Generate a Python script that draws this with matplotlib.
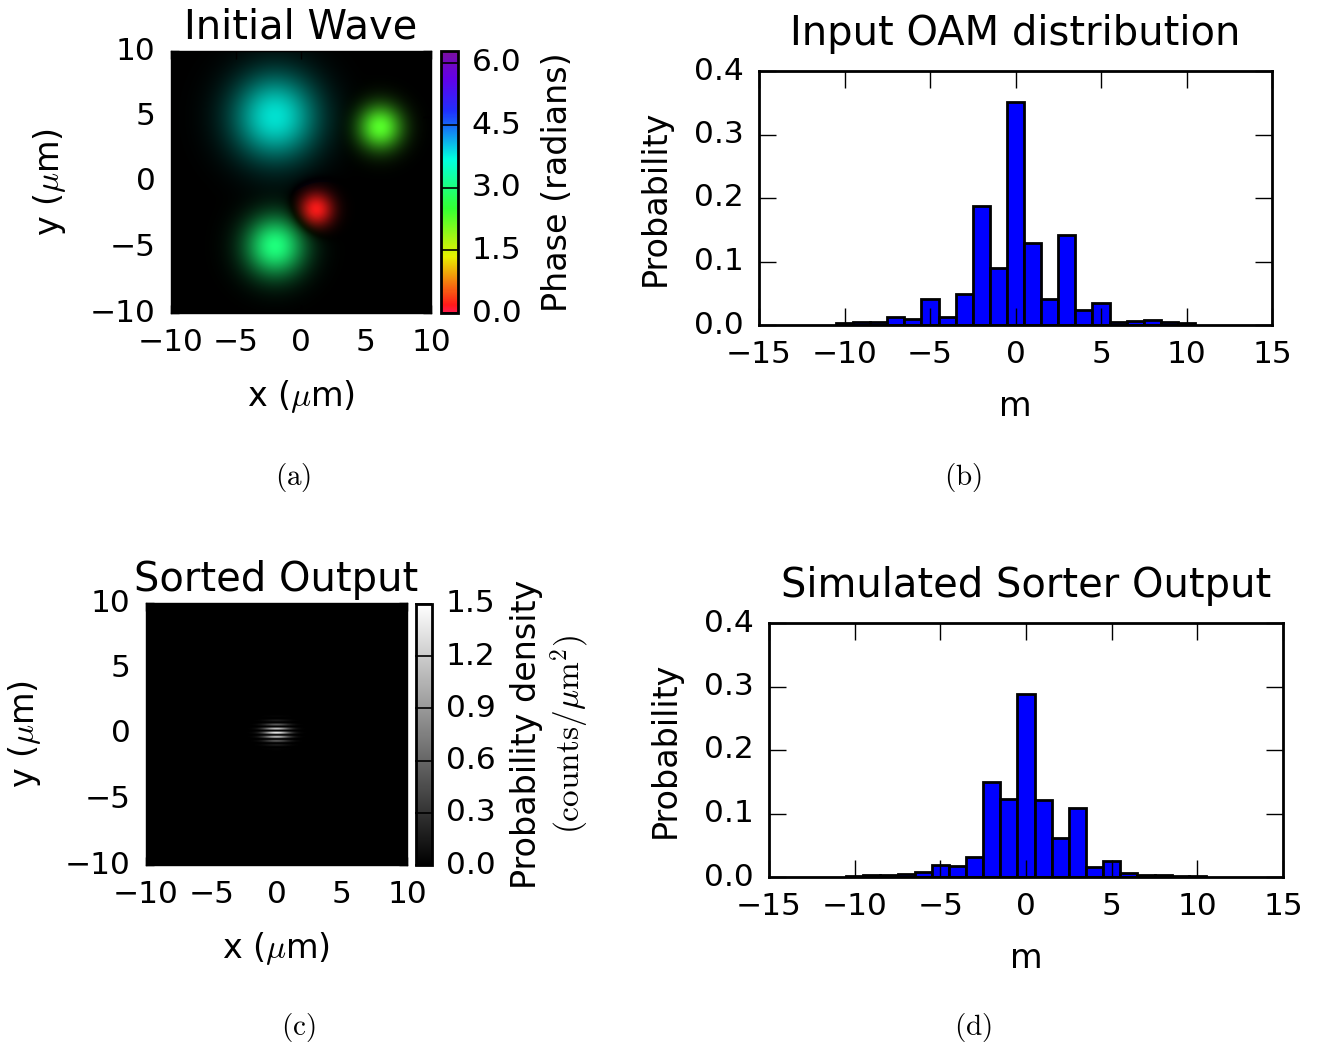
import numpy as np
import matplotlib
matplotlib.use('Agg')
import matplotlib.pyplot as plt
from matplotlib.colors import LinearSegmentedColormap, Normalize

plt.style.use('classic')
plt.rcParams['font.family'] = ['DejaVu Sans']
plt.rcParams['mathtext.fontset'] = 'cm'
plt.rcParams['axes.unicode_minus'] = True

# OAM histograms
m_vals = list(range(-10, 11))
input_prob = [0.003, 0.004, 0.004, 0.012, 0.009, 0.041, 0.013, 0.049, 0.188, 0.089,
              0.351, 0.129, 0.041, 0.142, 0.023, 0.034, 0.005, 0.006, 0.008, 0.004, 0.003]
sorted_prob = [0.001, 0.003, 0.003, 0.005, 0.008, 0.019, 0.017, 0.031, 0.150, 0.123,
               0.288, 0.122, 0.062, 0.109, 0.015, 0.025, 0.006, 0.003, 0.003, 0.002, 0.001]

# initial wave: gaussian spots (x, y, width, phase, amplitude)
spot_x = [-2.0, 6.1, 1.15, -2.0]
spot_y = [5.0, 4.2, -2.1, -4.9]
spot_w = [3.2, 1.7, 1.3, 2.3]
spot_phase = [3.75, 2.3, 0.2, 3.0]
spot_amp = [0.92, 1.0, 1.0, 1.0]

# sorted output: fringe patch (centre, widths, fringe period, peak)
fringe_x0, fringe_y0 = 0.0, 0.1
fringe_sx, fringe_sy = 0.7, 0.45
fringe_period = 0.32
fringe_peak = 1.4

# phase colour map
phase_pos = [0.0, 0.03, 0.215, 0.4, 0.586, 0.77, 0.9, 1.0]
phase_col = ['#ff1a4d', '#ff1a1a', '#e8f000', '#33ff33', '#00ffe0', '#2030ff', '#6400e8', '#7a10a0']
phase_cmap = LinearSegmentedColormap.from_list('phase', list(zip(phase_pos, phase_col)))

W, H = 1320, 1046
fig = plt.figure(figsize=(W / 100, H / 100), dpi=100, facecolor='white')


def px_axes(x0, y0, x1, y1):
    return fig.add_axes([x0 / W, 1 - y1 / H, (x1 - x0) / W, (y1 - y0) / H])


TICK = 22.5
LAB = 24
TITLE = 28.8


def style_ticks(ax, length=8, pad=9):
    ax.tick_params(labelsize=TICK, length=length, width=1, direction='in', pad=pad)
    ax.tick_params(which='minor', length=0)


grid = np.linspace(-10, 10, 500)
X, Y = np.meshgrid(grid, grid)

# (a) initial wave
field = np.zeros_like(X, dtype=complex)
for x0, y0, w, ph, a in zip(spot_x, spot_y, spot_w, spot_phase, spot_amp):
    field += a * np.exp(-((X - x0) ** 2 + (Y - y0) ** 2) / w ** 2) * np.exp(1j * ph)
phase = np.mod(np.angle(field), 2 * np.pi)
bright = np.abs(field) / np.abs(field).max()
norm_ph = Normalize(0, 2 * np.pi)
rgb = phase_cmap(norm_ph(phase))[..., :3] * bright[..., None]

ax_a = px_axes(171, 51, 431, 313)
ax_a.imshow(rgb, extent=[-10, 10, -10, 10], origin='lower', aspect='auto', interpolation='bilinear')
ax_a.set_xticks([-10, -5, 0, 5, 10])
ax_a.set_yticks([-10, -5, 0, 5, 10])
style_ticks(ax_a, 6, pad=11)
ax_a.set_title('Initial Wave', fontsize=TITLE, pad=9)
ax_a.set_xlabel(r'x ($\mu$m)', fontsize=LAB, labelpad=15)
ax_a.set_ylabel(r'y ($\mu$m)', fontsize=LAB, labelpad=16)

cax_a = px_axes(441, 51, 458, 313)
sm = plt.cm.ScalarMappable(norm=norm_ph, cmap=phase_cmap)
cb_a = fig.colorbar(sm, cax=cax_a, ticks=[0.0, 1.5, 3.0, 4.5, 6.0], format='%.1f')
cb_a.outline.set_linewidth(2)
cax_a.tick_params(labelsize=TICK, length=12, width=1.2, direction='in', pad=10, right=True, left=False)
cb_a.set_label('Phase (radians)', fontsize=LAB, labelpad=14)

# (b) input OAM distribution
ax_b = px_axes(759, 71, 1272, 325)
ax_b.bar(m_vals, input_prob, width=1.0, color='blue', edgecolor='black', linewidth=2)
ax_b.set_xlim(-15, 15)
ax_b.set_ylim(0, 0.4)
ax_b.set_xticks(range(-15, 16, 5))
ax_b.set_yticks([0.0, 0.1, 0.2, 0.3, 0.4])
ax_b.yaxis.set_major_formatter(matplotlib.ticker.FormatStrFormatter('%.1f'))
style_ticks(ax_b, 12, pad=11)
for s in ax_b.spines.values():
    s.set_linewidth(2)
ax_b.set_title('Input OAM distribution', fontsize=TITLE, pad=19)
ax_b.set_xlabel('m', fontsize=LAB, labelpad=15)
ax_b.set_ylabel('Probability', fontsize=LAB, labelpad=16)

# (c) sorted output
dens = fringe_peak * np.exp(-(X - fringe_x0) ** 2 / (2 * fringe_sx ** 2)
                            - (Y - fringe_y0) ** 2 / (2 * fringe_sy ** 2)) \
    * np.cos(np.pi * (Y - fringe_y0) / fringe_period) ** 2
ax_c = px_axes(146, 603, 407, 865)
im_c = ax_c.imshow(dens, extent=[-10, 10, -10, 10], origin='lower', aspect='auto',
                   cmap='gray', vmin=0, vmax=1.5, interpolation='bilinear')
ax_c.set_xticks([-10, -5, 0, 5, 10])
ax_c.set_yticks([-10, -5, 0, 5, 10])
style_ticks(ax_c, 6, pad=11)
ax_c.set_title('Sorted Output', fontsize=TITLE, pad=9)
ax_c.set_xlabel(r'x ($\mu$m)', fontsize=LAB, labelpad=15)
ax_c.set_ylabel(r'y ($\mu$m)', fontsize=LAB, labelpad=16)

cax_c = px_axes(416, 604, 432, 865)
cb_c = fig.colorbar(im_c, cax=cax_c, ticks=[0.0, 0.3, 0.6, 0.9, 1.2, 1.5], format='%.1f')
cb_c.outline.set_linewidth(2)
cax_c.tick_params(labelsize=TICK, length=12, width=1.2, direction='in', pad=10, right=True, left=False)
cb_c.set_label('Probability density\n' + r'$(\mathrm{counts}/\mu\mathrm{m}^2)$', fontsize=LAB, labelpad=10)

# (d) simulated sorter output
ax_d = px_axes(769, 623, 1283, 877)
ax_d.bar(m_vals, sorted_prob, width=1.0, color='blue', edgecolor='black', linewidth=2)
ax_d.set_xlim(-15, 15)
ax_d.set_ylim(0, 0.4)
ax_d.set_xticks(range(-15, 16, 5))
ax_d.set_yticks([0.0, 0.1, 0.2, 0.3, 0.4])
ax_d.yaxis.set_major_formatter(matplotlib.ticker.FormatStrFormatter('%.1f'))
style_ticks(ax_d, 12, pad=11)
for s in ax_d.spines.values():
    s.set_linewidth(2)
ax_d.set_title('Simulated Sorter Output', fontsize=TITLE, pad=19)
ax_d.set_xlabel('m', fontsize=LAB, labelpad=15)
ax_d.set_ylabel('Probability', fontsize=LAB, labelpad=16)

# sub-figure captions
for lab, (cx, cy) in zip(['(a)', '(b)', '(c)', '(d)'],
                         [(293, 478), (963, 478), (298, 1028), (973, 1028)]):
    fig.text(cx / W, 1 - cy / H, r'$\mathrm{%s}$' % lab, fontsize=21, ha='center', va='center')

fig.savefig('out.png', dpi=100, facecolor='white')
